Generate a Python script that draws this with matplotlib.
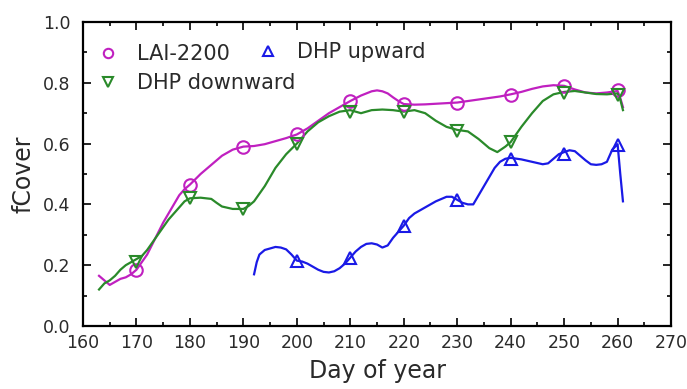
import matplotlib
matplotlib.use("Agg")
import matplotlib.pyplot as plt
from matplotlib.ticker import MultipleLocator

# ── Data ─────────────────────────────────────────────────────────────────────

# measured points (markers)
lai_day  = [170, 180, 190, 200, 210, 220, 230, 240, 250, 260]
lai_val  = [0.185, 0.465, 0.59, 0.63, 0.74, 0.73, 0.735, 0.76, 0.79, 0.775]

down_day = [170, 180, 190, 200, 210, 220, 230, 240, 250, 260]
down_val = [0.21, 0.42, 0.385, 0.60, 0.705, 0.705, 0.64, 0.605, 0.765, 0.76]

up_day   = [200, 210, 220, 230, 240, 250, 260]
up_val   = [0.215, 0.225, 0.33, 0.415, 0.55, 0.565, 0.595]

# fitted curves
lai_line_day = [163, 164, 165, 166, 167, 168, 169, 170, 171, 172, 173, 174, 175,
                176, 177, 178, 179, 180, 182, 184, 186, 188, 190, 192, 194, 196,
                198, 200, 202, 204, 206, 208, 210, 212, 214, 215, 216, 217, 218,
                219, 220, 222, 224, 226, 228, 230, 232, 234, 236, 238, 240, 242,
                244, 246, 248, 250, 252, 254, 256, 258, 260, 260.5, 261]
lai_line_val = [0.165, 0.15, 0.135, 0.145, 0.155, 0.16, 0.17, 0.185, 0.21, 0.235,
                0.27, 0.305, 0.34, 0.37, 0.40, 0.43, 0.45, 0.465, 0.50, 0.53, 0.56,
                0.58, 0.59, 0.592, 0.598, 0.608, 0.618, 0.63, 0.65, 0.675, 0.70,
                0.72, 0.74, 0.758, 0.772, 0.775, 0.772, 0.765, 0.752, 0.74, 0.73,
                0.728, 0.729, 0.731, 0.733, 0.735, 0.74, 0.745, 0.75, 0.755, 0.762,
                0.77, 0.78, 0.788, 0.792, 0.79, 0.778, 0.768, 0.765, 0.768, 0.773,
                0.75, 0.72]

down_line_day = [163, 164, 165, 166, 167, 168, 169, 170, 171, 172, 173, 174, 175,
                 176, 177, 178, 179, 180, 182, 184, 185, 186, 188, 190, 191, 192,
                 194, 196, 198, 200, 202, 204, 206, 208, 210, 212, 214, 216, 218,
                 220, 222, 224, 226, 228, 230, 232, 234, 236, 237.5, 239, 240, 242,
                 244, 246, 248, 250, 252, 254, 256, 258, 260, 260.5, 261]
down_line_val = [0.12, 0.14, 0.15, 0.165, 0.185, 0.20, 0.21, 0.22, 0.23, 0.25,
                 0.275, 0.30, 0.325, 0.35, 0.37, 0.39, 0.41, 0.42, 0.422, 0.418,
                 0.405, 0.393, 0.385, 0.385, 0.395, 0.41, 0.46, 0.52, 0.565, 0.60,
                 0.64, 0.67, 0.69, 0.705, 0.71, 0.70, 0.71, 0.712, 0.71, 0.705,
                 0.71, 0.70, 0.675, 0.655, 0.645, 0.64, 0.615, 0.585, 0.572, 0.59,
                 0.605, 0.655, 0.70, 0.74, 0.762, 0.77, 0.773, 0.768, 0.763, 0.762,
                 0.765, 0.745, 0.71]

up_line_day = [192, 192.5, 193, 194, 195, 196, 197, 198, 199, 200, 201, 202, 203,
               204, 205, 206, 207, 208, 209, 210, 211, 212, 213, 214, 215, 216,
               217, 218, 219, 220, 221, 222, 224, 226, 228, 229, 230, 231, 232,
               233, 234, 235, 236, 237, 238, 239, 240, 242, 244, 246, 247, 248,
               249, 250, 251, 252, 253, 254, 255, 256, 257, 258, 259, 260, 260.5, 261]
up_line_val = [0.17, 0.21, 0.235, 0.25, 0.255, 0.26, 0.258, 0.252, 0.235, 0.215,
               0.212, 0.205, 0.195, 0.185, 0.178, 0.176, 0.18, 0.19, 0.205, 0.225,
               0.245, 0.26, 0.27, 0.272, 0.268, 0.258, 0.265, 0.29, 0.31, 0.33,
               0.355, 0.37, 0.39, 0.41, 0.425, 0.425, 0.415, 0.405, 0.40, 0.40,
               0.43, 0.46, 0.49, 0.52, 0.54, 0.55, 0.553, 0.548, 0.54, 0.532,
               0.535, 0.55, 0.565, 0.572, 0.578, 0.575, 0.56, 0.545, 0.532, 0.53,
               0.532, 0.54, 0.58, 0.598, 0.50, 0.41]

# ── Plot ──────────────────────────────────────────────────────────────────────

MAGENTA, GREEN, BLUE = "#c020c0", "#2a8a2a", "#1a1ae6"
TXT = "#2a2a2a"

fig = plt.figure(figsize=(6.87, 3.89), dpi=100)
ax = fig.add_axes([0.1208, 0.162, 0.856, 0.7815])

ax.plot(lai_line_day, lai_line_val, color=MAGENTA, lw=1.6)
ax.plot(down_line_day, down_line_val, color=GREEN, lw=1.6)
ax.plot(up_line_day, up_line_val, color=BLUE, lw=1.6)

mk = dict(ls="none", mfc="none", ms=9, mew=1.5)
h_lai, = ax.plot(lai_day, lai_val, marker="o", mec=MAGENTA, label="LAI-2200", **mk)
h_down, = ax.plot(down_day, down_val, marker="v", mec=GREEN, label="DHP downward", **mk)
h_up, = ax.plot(up_day, up_val, marker="^", mec=BLUE, label="DHP upward", **mk)

ax.set_xlim(160, 270)
ax.set_ylim(0, 1.0)
ax.xaxis.set_major_locator(MultipleLocator(10))
ax.xaxis.set_minor_locator(MultipleLocator(5))
ax.yaxis.set_major_locator(MultipleLocator(0.2))
ax.yaxis.set_minor_locator(MultipleLocator(0.1))
ax.yaxis.set_major_formatter(plt.FuncFormatter(lambda v, _: f"{v:.1f}"))
ax.tick_params(which="both", direction="in", top=True, right=True,
               labelsize=12.5, labelcolor=TXT, width=1.2)
ax.tick_params(which="major", length=6)
ax.tick_params(which="minor", length=3)
ax.tick_params(axis="x", which="major", pad=6)
ax.tick_params(axis="y", which="major", pad=9)
for s in ax.spines.values():
    s.set_linewidth(1.6)

ax.set_xlabel("Day of year", fontsize=17, color=TXT, labelpad=5)
ax.set_ylabel("fCover", fontsize=17, color=TXT, labelpad=5)

leg_kw = dict(frameon=False, fontsize=15, numpoints=1, markerscale=0.75,
              handlelength=1.5, handletextpad=0.64, labelspacing=0.45,
              borderpad=0, borderaxespad=0, labelcolor=TXT)
leg1 = ax.legend(handles=[h_lai, h_down], loc="center left",
                 bbox_to_anchor=(0.016, 0.846), **leg_kw)
ax.add_artist(leg1)
ax.legend(handles=[h_up], loc="center left",
          bbox_to_anchor=(0.288, 0.901), **leg_kw)

fig.savefig("out.png", dpi=100)
